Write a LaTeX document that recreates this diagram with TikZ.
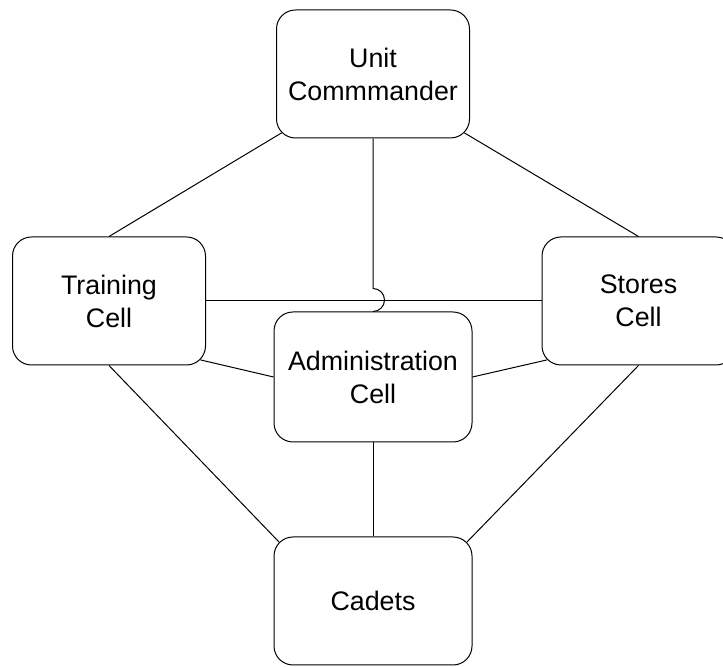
\documentclass[tikz,border=0pt]{standalone}
\usepackage{fontspec}
\setmainfont{Liberation Sans}
\usetikzlibrary{calc}

\tikzset{
  cell/.style={draw=black, line width=0.5pt, rounded corners=9.5pt, align=center,
    minimum width=96.5pt, minimum height=64pt, inner sep=0pt,
    font=\fontsize{13.4}{16.5}\selectfont},
  link/.style={draw=black, line width=0.5pt}
}

\begin{document}
\begin{tikzpicture}[x=0.5pt, y=0.5pt]
    \def\rc{5.6}
    \clip (0,0) rectangle (723,667);

    % ---------- boxes ----------
    \node[cell] (uc) at (373,593) {Unit\\Commmander};
    \node[cell] (tc) at (109,366) {Training\\Cell};
    \node[cell] (sc) at (638.5,366) {Stores\\Cell};
    \node[cell, minimum width=99pt, minimum height=65pt] (ac) at (373,290) {Administration\\Cell};
    \node[cell, minimum width=99pt] (cd) at (373,66) {Cadets};
    \coordinate (hop) at ($(ac.north)+(0,23)$);

    % ---------- links ----------
    \draw[link] ($(uc.south west)+(\rc,\rc)$) -- (tc.north);
    \draw[link] ($(uc.south east)+(-\rc,\rc)$) -- (sc.north);
    \draw[link] (tc.east) -- (sc.west);
    \draw[link] (uc.south) -- (hop) arc[start angle=90, end angle=-90, radius=11.5] -- (ac.north);
    \draw[link] ($(tc.south east)+(-\rc,\rc)$) -- (ac.west);
    \draw[link] ($(sc.south west)+(\rc,\rc)$) -- (ac.east);
    \draw[link] (tc.south) -- ($(cd.north west)+(\rc,-\rc)$);
    \draw[link] (sc.south) -- ($(cd.north east)+(-\rc,-\rc)$);
    \draw[link] (ac.south) -- (cd.north);
\end{tikzpicture}
\end{document}
